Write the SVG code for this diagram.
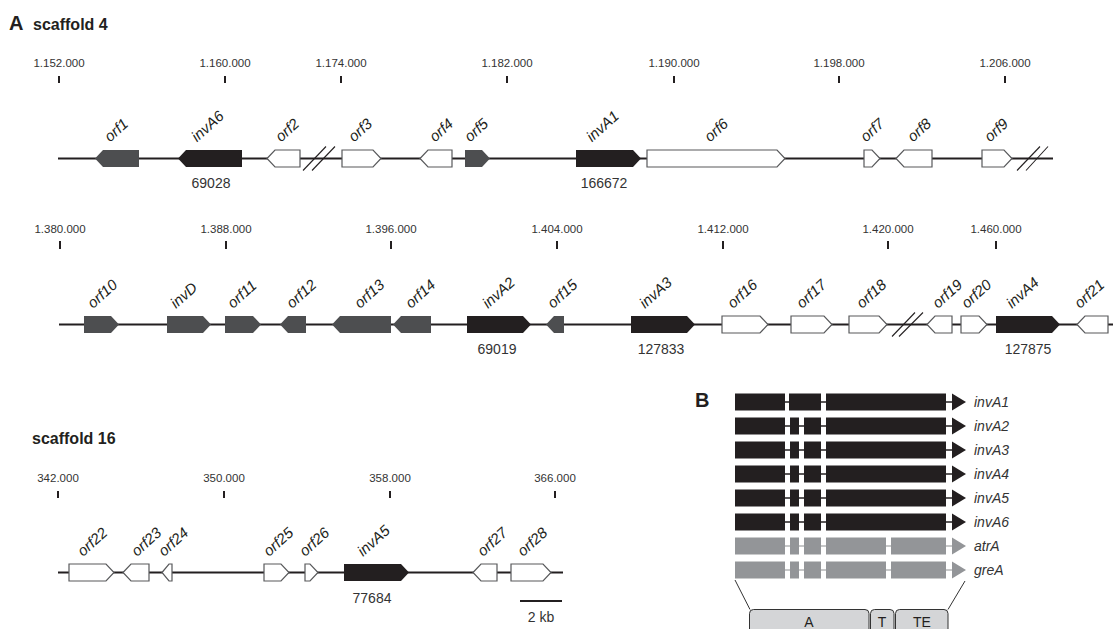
<svg xmlns="http://www.w3.org/2000/svg" width="1113" height="629" viewBox="0 0 1113 629">
<defs>
<style>
text{font-family:"Liberation Sans",Arial,sans-serif}
.bb{stroke:#231f20;stroke-width:2;fill:none}
.brk{stroke:#231f20;stroke-width:1.1;fill:none}
.tick{stroke:#231f20;stroke-width:2}
.tl{font-size:11.5px;fill:#333;text-anchor:middle}
.gl{font-size:15px;font-style:italic;fill:#231f20}
.num{font-size:14px;fill:#333;text-anchor:middle}
.hd{font-size:16px;font-weight:bold;fill:#231f20}
.pl{font-size:20px;font-weight:bold;fill:#231f20}
.blk{fill:#231f20}
.dg{fill:#4d4e50}
.wt{fill:#fff;stroke:#58595b;stroke-width:1.2}
.bl{fill:#231f20}
.gy{fill:#939598}
.il{stroke:#231f20;stroke-width:1.5}
.ilg{stroke:#b3b4b6;stroke-width:1.5}
.bt{font-size:14px;font-style:italic;fill:#333}
.dom{fill:#d4d5d7;stroke:#333;stroke-width:1}
.dt{font-size:14px;fill:#231f20;text-anchor:middle}
</style>
</defs>
<rect width="1113" height="629" fill="#fff"/>

<text class="pl" x="9" y="30">A</text>
<text class="hd" x="33" y="30">scaffold 4</text>
<text class="hd" x="32" y="444">scaffold 16</text>
<text class="pl" x="695" y="407">B</text>

<g id="ticks">
<line class="tick" x1="59" y1="76" x2="59" y2="83"/><text class="tl" x="59" y="67">1.152.000</text>
<line class="tick" x1="225" y1="76" x2="225" y2="83"/><text class="tl" x="225" y="67">1.160.000</text>
<line class="tick" x1="341" y1="76" x2="341" y2="83"/><text class="tl" x="341" y="67">1.174.000</text>
<line class="tick" x1="507" y1="76" x2="507" y2="83"/><text class="tl" x="507" y="67">1.182.000</text>
<line class="tick" x1="674" y1="76" x2="674" y2="83"/><text class="tl" x="674" y="67">1.190.000</text>
<line class="tick" x1="839" y1="76" x2="839" y2="83"/><text class="tl" x="839" y="67">1.198.000</text>
<line class="tick" x1="1005" y1="76" x2="1005" y2="83"/><text class="tl" x="1005" y="67">1.206.000</text>

<line class="tick" x1="60" y1="241" x2="60" y2="249"/><text class="tl" x="60" y="233">1.380.000</text>
<line class="tick" x1="226" y1="241" x2="226" y2="249"/><text class="tl" x="226" y="233">1.388.000</text>
<line class="tick" x1="391" y1="241" x2="391" y2="249"/><text class="tl" x="391" y="233">1.396.000</text>
<line class="tick" x1="557" y1="241" x2="557" y2="249"/><text class="tl" x="557" y="233">1.404.000</text>
<line class="tick" x1="723" y1="241" x2="723" y2="249"/><text class="tl" x="723" y="233">1.412.000</text>
<line class="tick" x1="888" y1="241" x2="888" y2="249"/><text class="tl" x="888" y="233">1.420.000</text>
<line class="tick" x1="996" y1="241" x2="996" y2="249"/><text class="tl" x="996" y="233">1.460.000</text>

<line class="tick" x1="58" y1="491" x2="58" y2="498"/><text class="tl" x="58" y="482">342.000</text>
<line class="tick" x1="224" y1="491" x2="224" y2="498"/><text class="tl" x="224" y="482">350.000</text>
<line class="tick" x1="390" y1="491" x2="390" y2="498"/><text class="tl" x="390" y="482">358.000</text>
<line class="tick" x1="555" y1="491" x2="555" y2="498"/><text class="tl" x="555" y="482">366.000</text>
</g>

<g id="connectors">
<line class="bb" x1="58" y1="158.5" x2="1053" y2="158.5"/>
<line class="brk" x1="303" y1="170.5" x2="326" y2="146.5"/>
<line class="brk" x1="312" y1="170.5" x2="335" y2="146.5"/>
<line class="brk" x1="1017" y1="170.5" x2="1040" y2="146.5"/>
<line class="brk" x1="1026" y1="170.5" x2="1048" y2="146.5"/>
<line class="bb" x1="59" y1="324.5" x2="1113" y2="324.5"/>
<line class="brk" x1="892" y1="336.5" x2="915" y2="312.5"/>
<line class="brk" x1="899" y1="336.5" x2="923" y2="312.5"/>
<line class="bb" x1="58" y1="572.5" x2="563" y2="572.5"/>
<line class="bb" x1="520" y1="601" x2="562" y2="601"/>
<line stroke="#333" stroke-width="1" x1="735" y1="580" x2="750" y2="609.5"/>
<line stroke="#333" stroke-width="1" x1="965" y1="581" x2="948" y2="609.5"/>
</g>
<text class="num" x="541" y="622">2 kb</text>

<!-- Row 1 -->
<g id="orf1"><polygon class="dg" points="95,158.5 103,150 139,150 139,167 103,167"/><text class="gl" transform="translate(110,142.5) rotate(-42)">orf1</text></g>
<g id="invA6"><polygon class="blk" points="178,158.5 186,150 242,150 242,167 186,167"/><text class="gl" transform="translate(197,142.5) rotate(-42)">invA6</text><text class="num" x="211" y="188">69028</text></g>
<g id="orf2"><polygon class="wt" points="267,158.5 275,150 300,150 300,167 275,167"/><text class="gl" transform="translate(281,142.5) rotate(-42)">orf2</text></g>
<g id="orf3"><polygon class="wt" points="342,150 373,150 381,158.5 373,167 342,167"/><text class="gl" transform="translate(354,142.5) rotate(-42)">orf3</text></g>
<g id="orf4"><polygon class="wt" points="420,158.5 428,150 452,150 452,167 428,167"/><text class="gl" transform="translate(435,142.5) rotate(-42)">orf4</text></g>
<g id="orf5"><polygon class="dg" points="465,150 482,150 490,158.5 482,167 465,167"/><text class="gl" transform="translate(470,142.5) rotate(-42)">orf5</text></g>
<g id="invA1"><polygon class="blk" points="576,150 633,150 641,158.5 633,167 576,167"/><text class="gl" transform="translate(592,142.5) rotate(-42)">invA1</text><text class="num" x="604" y="188">166672</text></g>
<g id="orf6"><polygon class="wt" points="647,150 777,150 785,158.5 777,167 647,167"/><text class="gl" transform="translate(710,142.5) rotate(-42)">orf6</text></g>
<g id="orf7"><polygon class="wt" points="864,150 872,150 880,158.5 872,167 864,167"/><text class="gl" transform="translate(866,142.5) rotate(-42)">orf7</text></g>
<g id="orf8"><polygon class="wt" points="896,158.5 904,150 932,150 932,167 904,167"/><text class="gl" transform="translate(913,142.5) rotate(-42)">orf8</text></g>
<g id="orf9"><polygon class="wt" points="982,150 1004,150 1012,158.5 1004,167 982,167"/><text class="gl" transform="translate(990,142.5) rotate(-42)">orf9</text></g>

<!-- Row 2 -->
<g id="orf10"><polygon class="dg" points="84,316 111,316 119,324.5 111,333 84,333"/><text class="gl" transform="translate(93,309) rotate(-42)">orf10</text></g>
<g id="invD"><polygon class="dg" points="167,316 203,316 211,324.5 203,333 167,333"/><text class="gl" transform="translate(176,309) rotate(-42)">invD</text></g>
<g id="orf11"><polygon class="dg" points="225,316 253,316 261,324.5 253,333 225,333"/><text class="gl" transform="translate(233,309) rotate(-42)">orf11</text></g>
<g id="orf12"><polygon class="dg" points="280,324.5 288,316 306,316 306,333 288,333"/><text class="gl" transform="translate(292,309) rotate(-42)">orf12</text></g>
<g id="orf13"><polygon class="dg" points="332,324.5 340,316 391,316 391,333 340,333"/><text class="gl" transform="translate(360,309) rotate(-42)">orf13</text></g>
<g id="orf14"><polygon class="dg" points="393,324.5 401,316 431,316 431,333 401,333"/><text class="gl" transform="translate(411,309) rotate(-42)">orf14</text></g>
<g id="invA2"><polygon class="blk" points="467,316 523,316 531,324.5 523,333 467,333"/><text class="gl" transform="translate(488,309) rotate(-42)">invA2</text><text class="num" x="497" y="354">69019</text></g>
<g id="orf15"><polygon class="dg" points="546,324.5 554,316 564,316 564,333 554,333"/><text class="gl" transform="translate(553,309) rotate(-42)">orf15</text></g>
<g id="invA3"><polygon class="blk" points="631,316 687,316 695,324.5 687,333 631,333"/><text class="gl" transform="translate(645,309) rotate(-42)">invA3</text><text class="num" x="661" y="354">127833</text></g>
<g id="orf16"><polygon class="wt" points="722,316 760,316 768,324.5 760,333 722,333"/><text class="gl" transform="translate(733,309) rotate(-42)">orf16</text></g>
<g id="orf17"><polygon class="wt" points="791,316 824,316 832,324.5 824,333 791,333"/><text class="gl" transform="translate(802,309) rotate(-42)">orf17</text></g>
<g id="orf18"><polygon class="wt" points="849,316 879,316 887,324.5 879,333 849,333"/><text class="gl" transform="translate(862,309) rotate(-42)">orf18</text></g>
<g id="orf19"><polygon class="wt" points="927,324.5 935,316 952,316 952,333 935,333"/><text class="gl" transform="translate(938,309) rotate(-42)">orf19</text></g>
<g id="orf20"><polygon class="wt" points="961,316 979,316 987,324.5 979,333 961,333"/><text class="gl" transform="translate(967,309) rotate(-42)">orf20</text></g>
<g id="invA4"><polygon class="blk" points="996,316 1052,316 1060,324.5 1052,333 996,333"/><text class="gl" transform="translate(1012,309) rotate(-42)">invA4</text><text class="num" x="1028" y="354">127875</text></g>
<g id="orf21"><polygon class="wt" points="1077,324.5 1085,316 1108,316 1108,333 1085,333"/><text class="gl" transform="translate(1080,309) rotate(-42)">orf21</text></g>

<!-- Row 3 -->
<g id="orf22"><polygon class="wt" points="69,564 106,564 114,572.5 106,581 69,581"/><text class="gl" transform="translate(83,557) rotate(-42)">orf22</text></g>
<g id="orf23"><polygon class="wt" points="123,572.5 131,564 149,564 149,581 131,581"/><text class="gl" transform="translate(137,557) rotate(-42)">orf23</text></g>
<g id="orf24"><polygon class="wt" points="162,572.5 169,564 172,564 172,581 169,581"/><text class="gl" transform="translate(164,557) rotate(-42)">orf24</text></g>
<g id="orf25"><polygon class="wt" points="264,564 281,564 289,572.5 281,581 264,581"/><text class="gl" transform="translate(269,557) rotate(-42)">orf25</text></g>
<g id="orf26"><polygon class="wt" points="305,564 310,564 318,572.5 310,581 305,581"/><text class="gl" transform="translate(305,557) rotate(-42)">orf26</text></g>
<g id="invA5"><polygon class="blk" points="344,564 401,564 409,572.5 401,581 344,581"/><text class="gl" transform="translate(363,557) rotate(-42)">invA5</text><text class="num" x="372" y="603">77684</text></g>
<g id="orf27"><polygon class="wt" points="473,572.5 481,564 497,564 497,581 481,581"/><text class="gl" transform="translate(483,557) rotate(-42)">orf27</text></g>
<g id="orf28"><polygon class="wt" points="511,564 543,564 551,572.5 543,581 511,581"/><text class="gl" transform="translate(523,557) rotate(-42)">orf28</text></g>

<!-- Panel B -->
<g id="B-invA1">
<line class="il" x1="735" y1="402" x2="955" y2="402"/>
<rect class="bl" x="735" y="393.5" width="50" height="17"/><rect class="bl" x="789" y="393.5" width="32" height="17"/><rect class="bl" x="826" y="393.5" width="120" height="17"/>
<polygon class="bl" points="952,393.5 966,402 952,410.5"/>
<text class="bt" x="974" y="407">invA1</text>
</g>
<g id="B-invA2">
<line class="il" x1="735" y1="426" x2="955" y2="426"/>
<rect class="bl" x="735" y="417.5" width="50" height="17"/><rect class="bl" x="790" y="417.5" width="9" height="17"/><rect class="bl" x="804" y="417.5" width="17" height="17"/><rect class="bl" x="826" y="417.5" width="120" height="17"/>
<polygon class="bl" points="952,417.5 966,426 952,434.5"/>
<text class="bt" x="974" y="431">invA2</text>
</g>
<g id="B-invA3">
<line class="il" x1="735" y1="450" x2="955" y2="450"/>
<rect class="bl" x="735" y="441.5" width="50" height="17"/><rect class="bl" x="790" y="441.5" width="9" height="17"/><rect class="bl" x="804" y="441.5" width="17" height="17"/><rect class="bl" x="826" y="441.5" width="120" height="17"/>
<polygon class="bl" points="952,441.5 966,450 952,458.5"/>
<text class="bt" x="974" y="455">invA3</text>
</g>
<g id="B-invA4">
<line class="il" x1="735" y1="474" x2="955" y2="474"/>
<rect class="bl" x="735" y="465.5" width="50" height="17"/><rect class="bl" x="790" y="465.5" width="9" height="17"/><rect class="bl" x="804" y="465.5" width="17" height="17"/><rect class="bl" x="826" y="465.5" width="120" height="17"/>
<polygon class="bl" points="952,465.5 966,474 952,482.5"/>
<text class="bt" x="974" y="479">invA4</text>
</g>
<g id="B-invA5">
<line class="il" x1="735" y1="498" x2="955" y2="498"/>
<rect class="bl" x="735" y="489.5" width="50" height="17"/><rect class="bl" x="790" y="489.5" width="9" height="17"/><rect class="bl" x="804" y="489.5" width="17" height="17"/><rect class="bl" x="826" y="489.5" width="120" height="17"/>
<polygon class="bl" points="952,489.5 966,498 952,506.5"/>
<text class="bt" x="974" y="503">invA5</text>
</g>
<g id="B-invA6">
<line class="il" x1="735" y1="522" x2="955" y2="522"/>
<rect class="bl" x="735" y="513.5" width="50" height="17"/><rect class="bl" x="790" y="513.5" width="9" height="17"/><rect class="bl" x="804" y="513.5" width="17" height="17"/><rect class="bl" x="826" y="513.5" width="120" height="17"/>
<polygon class="bl" points="952,513.5 966,522 952,530.5"/>
<text class="bt" x="974" y="527">invA6</text>
</g>
<g id="B-atrA">
<line class="ilg" x1="735" y1="546" x2="955" y2="546"/>
<rect class="gy" x="735" y="537.5" width="50" height="17"/><rect class="gy" x="790" y="537.5" width="9" height="17"/><rect class="gy" x="804" y="537.5" width="17" height="17"/><rect class="gy" x="826" y="537.5" width="60" height="17"/><rect class="gy" x="891" y="537.5" width="55" height="17"/>
<polygon class="gy" points="952,537.5 966,546 952,554.5"/>
<text class="bt" x="974" y="551">atrA</text>
</g>
<g id="B-greA">
<line class="ilg" x1="735" y1="570" x2="955" y2="570"/>
<rect class="gy" x="735" y="561.5" width="50" height="17"/><rect class="gy" x="790" y="561.5" width="9" height="17"/><rect class="gy" x="804" y="561.5" width="17" height="17"/><rect class="gy" x="826" y="561.5" width="60" height="17"/><rect class="gy" x="891" y="561.5" width="55" height="17"/>
<polygon class="gy" points="952,561.5 966,570 952,578.5"/>
<text class="bt" x="974" y="575">greA</text>
</g>
<g id="domain-A"><rect class="dom" x="749.5" y="609.5" width="119.5" height="30" rx="4"/><text class="dt" x="809" y="627">A</text></g>
<g id="domain-T"><rect class="dom" x="870.5" y="609.5" width="23.5" height="30" rx="4"/><text class="dt" x="882" y="627">T</text></g>
<g id="domain-TE"><rect class="dom" x="895.5" y="609.5" width="52.5" height="30" rx="4"/><text class="dt" x="922" y="627">TE</text></g>
</svg>
